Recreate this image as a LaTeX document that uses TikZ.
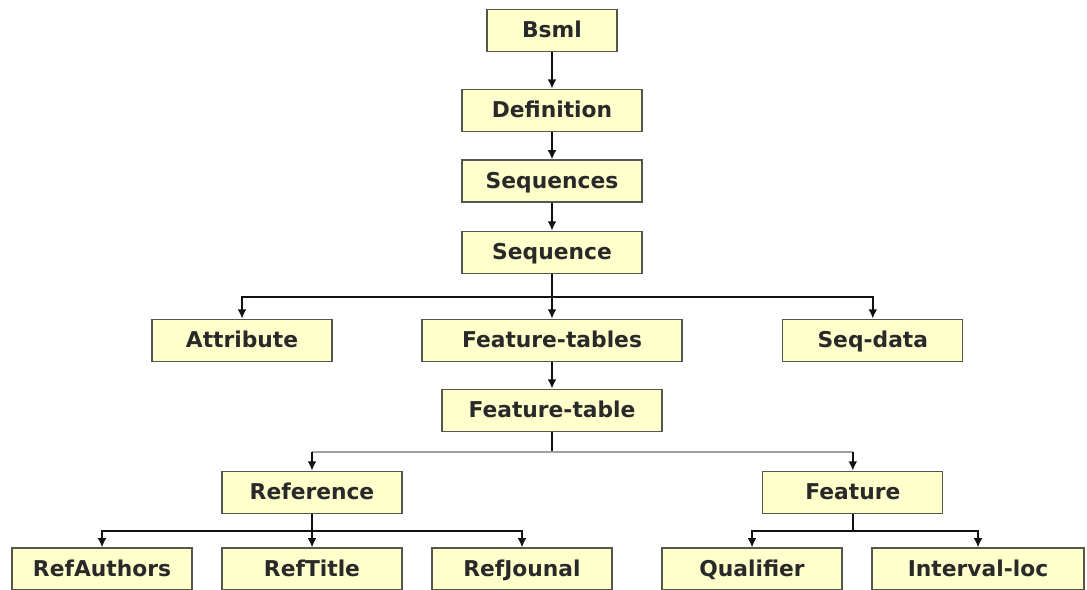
\documentclass[tikz,border=0pt]{standalone}
\usepackage{fontspec}
\setmainfont{DejaVu Sans}
\usetikzlibrary{arrows.meta}
\definecolor{ink}{HTML}{111111}
\definecolor{frame}{HTML}{55574C}
\definecolor{boxfill}{HTML}{FFFFCC}
\definecolor{rule}{HTML}{A0A0A0}
\tikzset{
  elem/.style={draw=frame, fill=boxfill, line width=0.9pt, inner sep=0pt,
    minimum height=1.05cm, text height=13pt, text depth=2pt,
    font=\fontsize{15.5}{18}\selectfont\bfseries, text=ink!90},
  arrow/.style={-{Latex[length=2.3mm, width=2.2mm]}, draw=ink, line width=1.2pt},
  trunk/.style={draw=ink, line width=1.2pt},
  greyrule/.style={draw=rule, line width=1.6pt}
}
\begin{document}
\begin{tikzpicture}[x=1cm,y=1cm]
\useasboundingbox (0,0) rectangle (27.175,14.725);

% Main chain
\node[elem, minimum width=3.25cm] (bsml) at (13.80,13.97) {Bsml};
\node[elem, minimum width=4.5cm] (definition) at (13.80,11.97) {Definition};
\node[elem, minimum width=4.5cm] (sequences) at (13.80,10.20) {Sequences};
\node[elem, minimum width=4.5cm] (sequence) at (13.80,8.42) {Sequence};

% Children of Sequence
\node[elem, minimum width=4.5cm] (attribute) at (6.05,6.22) {Attribute};
\node[elem, minimum width=6.5cm] (ftables) at (13.80,6.22) {Feature-tables};
\node[elem, minimum width=4.5cm] (seqdata) at (21.82,6.22) {Seq-data};
\node[elem, minimum width=5.5cm] (ftable) at (13.80,4.47) {Feature-table};

% Reference and Feature
\node[elem, minimum width=4.5cm] (reference) at (7.80,2.42) {Reference};
\node[elem, minimum width=4.5cm] (feature) at (21.32,2.42) {Feature};

% Leaves
\node[elem, minimum width=4.5cm] (refauthors) at (2.55,0.50) {RefAuthors};
\node[elem, minimum width=4.5cm] (reftitle) at (7.80,0.50) {RefTitle};
\node[elem, minimum width=4.5cm] (refjounal) at (13.05,0.50) {RefJounal};
\node[elem, minimum width=4.5cm] (qualifier) at (18.80,0.50) {Qualifier};
\node[elem, minimum width=5.3cm] (intervalloc) at (24.45,0.50) {Interval-loc};

\coordinate (seqbar) at (13.80,7.30);
\coordinate (ftbar) at (13.80,3.42);
\coordinate (refbar) at (7.80,1.45);
\coordinate (featbar) at (21.32,1.45);

% Connectors
\draw[arrow] (bsml) -- (definition);
\draw[arrow] (definition) -- (sequences);
\draw[arrow] (sequences) -- (sequence);

\draw[trunk] (sequence.south) -- (seqbar);
\draw[arrow] (seqbar) -| (attribute.north);
\draw[arrow] (seqbar) -| (seqdata.north);
\draw[arrow] (seqbar) -- (ftables.north);
\draw[arrow] (ftables) -- (ftable);

\draw[trunk] (ftable.south) -- (ftbar);
\draw[greyrule] (reference.north |- ftbar) -- (feature.north |- ftbar);
\draw[arrow] (reference.north |- ftbar) -- (reference.north);
\draw[arrow] (feature.north |- ftbar) -- (feature.north);

\draw[trunk] (reference.south) -- (refbar);
\draw[arrow] (refbar) -| (refauthors.north);
\draw[arrow] (refbar) -| (refjounal.north);
\draw[arrow] (refbar) -- (reftitle.north);

\draw[trunk] (feature.south) -- (featbar);
\draw[arrow] (featbar) -| (qualifier.north);
\draw[arrow] (featbar) -| (intervalloc.north);

\end{tikzpicture}
\end{document}
